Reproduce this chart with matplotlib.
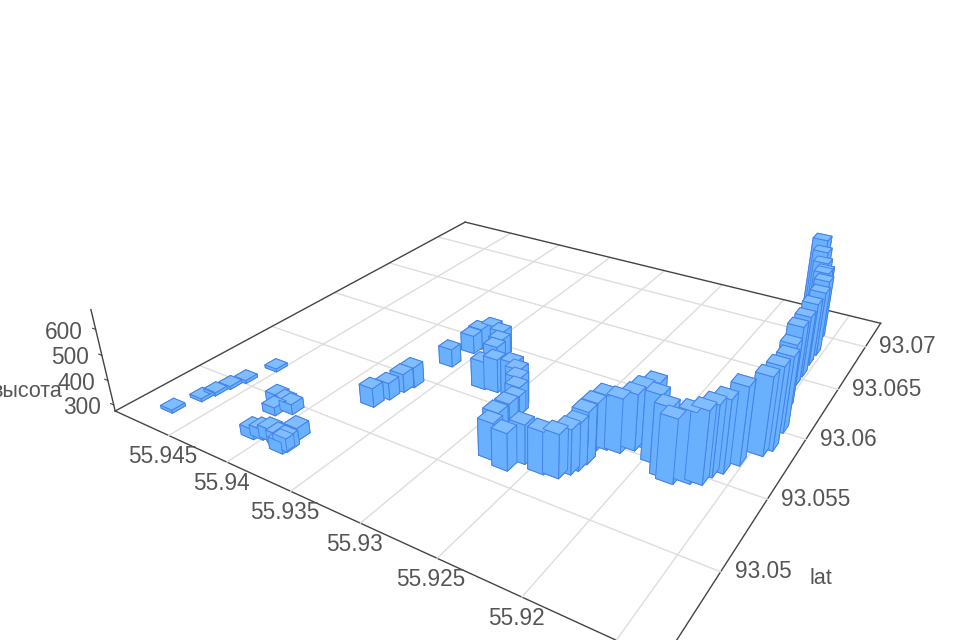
import numpy as np, matplotlib
matplotlib.use('Agg')
import matplotlib.pyplot as plt
from mpl_toolkits.mplot3d import proj3d

plt.rcParams['font.family'] = ['Liberation Sans', 'DejaVu Sans']

lon = [55.9473,55.9468,55.9466,55.9464,55.9461,55.9455,55.9425,55.9417,55.9409,55.9417,55.9409,55.9404,55.9398,55.9390,55.9386,55.9383,55.9384,
       55.9372,55.9369,55.9367,55.9365,55.9360,55.9358,55.9357,55.9350,55.9338,55.9331,55.9327,55.9316,55.9325,55.9302,55.9295,55.9293,55.9290,55.9290,55.9288,
       55.9276,55.9277,55.9260,55.9265,55.9246,55.9237,55.9233,55.9231,55.9230,55.9232,55.9227,55.9219,55.9213,55.9210,55.9206,55.9196,55.9186,55.9181,
       55.9173,55.9167,55.9165,55.9161,55.9156,55.9148,55.9145,55.9146,55.9152,55.9157,55.9157,55.9158,55.9158,55.9162,55.9167,55.9166,55.9169,55.9172,55.9175]
lat = [93.0467,93.0481,93.0488,93.0496,93.0504,93.0520,93.0499,93.0491,93.0496,93.0498,93.0472,93.0474,93.0475,93.0474,93.0482,93.0473,93.0471,
       93.0521,93.0530,93.0539,93.0545,93.0571,93.0588,93.0594,93.0598,93.0593,93.0584,93.0575,93.0563,93.0562,93.0562,93.0558,93.0556,93.0552,93.0550,93.0541,
       93.0519,93.0516,93.0521,93.0513,93.0519,93.0520,93.0525,93.0529,93.0535,93.0546,93.0549,93.0550,93.0555,93.0559,93.0565,93.0551,93.0544,93.0542,
       93.0546,93.0548,93.0555,93.0560,93.0569,93.0581,93.0587,93.0603,93.0623,93.0645,93.0656,93.0669,93.0681,93.0698,93.0713,93.0707,93.0712,93.0717,93.0722]
height = [287,287,287,287,287,287,309,307,315,307,315,315,323,323,323,329,321,
          351,343,349,357,349,351,361,373,385,393,401,411,389,425,425,403,387,353,369,
          447,419,427,419,437,443,447,455,475,459,485,485,493,507,509,539,541,519,
          541,551,547,553,573,577,597,573,535,521,525,533,543,533,525,535,560,590,625]

grid_lon = [55.915,55.92,55.925,55.93,55.935,55.94,55.945]
lon_ticks = [55.92,55.925,55.93,55.935,55.94,55.945]
lon_labels = ['55.92','55.925','55.93','55.935','55.94','55.945']
lat_ticks = [93.05,93.055,93.06,93.065,93.07]
lat_labels = ['93.05','93.055','93.06','93.065','93.07']
z_ticks = [300,400,500,600]
z_labels = ['300','400','500','600']

XLIM=(55.94999,55.91272); YLIM=(93.04502,93.07314); ZLIM=(275,675)
BASE=ZLIM[0]; DX=0.00105; DY=0.00075
TXT='#555555'; AX='#444444'; GRID='#dddddd'; SIDE='#69b1ff'; TOP='#80bdff'; EDGE='#4583e8'

fig=plt.figure(figsize=(9.6,6.4),dpi=100,facecolor='white')
s=4236.31549; cx=528.84580; cy=317.20451
W=0.185*s; L=cx-0.095*s; B=640-cy-0.095*s
ax=fig.add_axes([L/960,B/640,W/960,W/640],projection='3d')
ax.patch.set_alpha(0)
ax.view_init(27.46342,-57.79071)
ax.set_proj_type('persp',focal_length=0.22365)
ax.set_box_aspect((0.99985,1,0.18961))
ax.computed_zorder=False
ax.set_xlim(*XLIM,view_margin=0); ax.set_ylim(*YLIM,view_margin=0); ax.set_zlim(*ZLIM,view_margin=0)

for a in (ax.xaxis,ax.yaxis,ax.zaxis):
    a.set_pane_color((1,1,1,0))
    a.pane.set_edgecolor((1,1,1,0))
    a.line.set_color(AX); a.line.set_linewidth(1.0)
    a._axinfo['tick']['color']=AX
    a._axinfo['tick']['linewidth']={True:0.8,False:0.8}
    a._axinfo['tick']['inward_factor']=0
    a._axinfo['tick']['outward_factor']=0
ax.grid(False)
ax.zaxis.line.set_visible(False)
ax.set_xticks(lon_ticks,labels=['']*len(lon_ticks))
ax.set_yticks(lat_ticks,labels=['']*len(lat_ticks))
ax.set_zticks([])

kw=dict(clip_on=False)
for v in grid_lon:
    ax.plot([v,v],YLIM,[BASE,BASE],color=GRID,lw=1,zorder=1,**kw)
for v in lat_ticks:
    ax.plot(XLIM,[v,v],[BASE,BASE],color=GRID,lw=1,zorder=1,**kw)
ax.plot([XLIM[0],XLIM[0]],YLIM,[BASE,BASE],color=AX,lw=1,zorder=2,**kw)
ax.plot(XLIM,[YLIM[1],YLIM[1]],[BASE,BASE],color=AX,lw=1,zorder=2,**kw)
ax.plot([XLIM[0],XLIM[0]],[YLIM[0],YLIM[0]],ZLIM,color=AX,lw=1,zorder=2,**kw)
for v in z_ticks:
    ax.plot([XLIM[0],XLIM[0]+0.0003],[YLIM[0],YLIM[0]],[v,v],color=AX,lw=0.8,zorder=2,**kw)

n=len(lon)
x=np.array(lon)-DX/2; y=np.array(lat)-DY/2; h=np.array(height,float)-BASE
cols=[SIDE,TOP,SIDE,SIDE,SIDE,SIDE]*n
ax.bar3d(x,y,np.full(n,BASE),np.full(n,DX),np.full(n,DY),h,color=cols,edgecolor=EDGE,linewidth=0.7,shade=False,zorder=3,zsort='max')

M=ax.get_proj()
def put(t,xv,yv,zv,off,ha,va,fs=16.3):
    px,py,_=proj3d.proj_transform(xv,yv,zv,M)
    ax.annotate(t,xy=(px,py),xycoords='data',xytext=off,textcoords='offset pixels',ha=ha,va=va,fontsize=fs,color=TXT,annotation_clip=False)
for v,t in zip(lon_ticks,lon_labels):
    put(t,v,YLIM[0],BASE,(-6,-21),'center','center')
for v,t in zip(lat_ticks,lat_labels):
    put(t,XLIM[1],v,BASE,(14,0),'left','center')
for v,t in zip(z_ticks,z_labels):
    put(t,XLIM[0],YLIM[0],v,(-12.5,-2.5),'right','center')
put('lat',XLIM[1],lat_ticks[0],BASE,(100,-7),'center','center',15.5)
put('высота',XLIM[0],YLIM[0],z_ticks[1],(-46,-11),'right','center',15.5)
fig.savefig('out.png',dpi=100)
